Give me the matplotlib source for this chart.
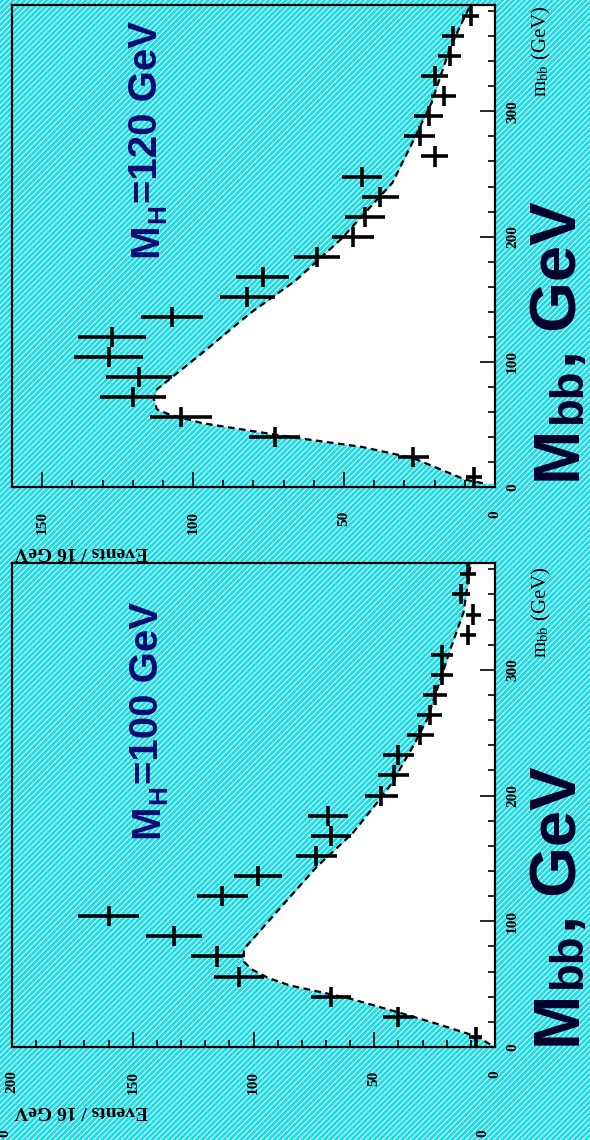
import numpy as np
import matplotlib
import matplotlib.pyplot as plt
from matplotlib.ticker import MultipleLocator
from matplotlib.patches import Rectangle
from matplotlib.transforms import IdentityTransform

matplotlib.use('Agg')

plt.rcParams['mathtext.fontset'] = 'stix'
plt.rcParams['hatch.linewidth'] = 0.7

# bin centres (Events / 16 GeV)
m_bins = [8, 24, 40, 56, 72, 88, 104, 120, 136, 152, 168, 184,
          200, 216, 232, 248, 264, 280, 296, 312, 328, 344, 360, 376]
bin_half = 8

# M_H = 100 GeV
events_100 = [8, 40, 68, 106, 115, 133, 160, 113, 98, 74, 68, 69,
              47, 42, 40, 31, 27, 25, 22, 22, 11, 9, 14, 11]
err_100 = [2.8, 6.3, 8.2, 10.3, 10.7, 11.5, 12.6, 10.6, 9.9, 8.6, 8.2, 8.3,
           6.9, 6.5, 6.3, 5.6, 5.2, 5.0, 4.7, 4.7, 3.3, 3.0, 3.7, 3.3]
curve_m_100 = [2, 8, 19, 27, 39, 49, 55, 62, 68, 76, 80, 117, 143, 170,
               194, 209, 239, 261, 319, 346, 372, 385]
curve_ev_100 = [2, 7, 25, 39, 61, 85, 94, 101, 104, 104, 103, 86, 74, 59,
                49, 43, 34, 28, 18, 13, 11, 10]

# M_H = 120 GeV
events_120 = [7, 27, 73, 104, 120, 118, 128, 127, 107, 82, 77, 59,
              47, 43, 38, 44, 20, 25, 22, 17, 20, 15, 14, 8]
err_120 = [2.6, 5.2, 8.5, 10.2, 11.0, 10.9, 11.3, 11.3, 10.3, 9.1, 8.8, 7.7,
           6.9, 6.6, 6.2, 6.6, 4.5, 5.0, 4.7, 4.1, 4.5, 3.9, 3.7, 2.8]
curve_m_120 = [3, 6, 16, 23, 32, 40, 51, 58, 62, 70, 78, 107, 139, 165,
               198, 243, 272, 307, 350, 376, 385]
curve_ev_120 = [4, 10, 20, 27, 44, 68, 97, 108, 112, 113, 112, 97, 81, 66,
                51, 34, 28, 21, 15, 10, 8]

W, H = 590, 1140
bg = '#1cdde6'
serif = ['Liberation Serif', 'DejaVu Serif']
sans = ['Liberation Sans', 'DejaVu Sans']

fig = plt.figure(figsize=(W / 100, H / 100), dpi=100)
fig.patch.set_facecolor(bg)
fig.add_artist(Rectangle((0, 0), 1, 1, transform=fig.transFigure, facecolor=bg,
                         edgecolor='#f4ffff', hatch='//////', lw=0, zorder=-10))


def px_axes(left, top, right, bottom):
    return fig.add_axes([left / W, 1 - bottom / H, (right - left) / W, (bottom - top) / H])


def draw_panel(ax, ev, err, cm, cev, ev_max):
    ax.set_facecolor('none')
    ax.fill_betweenx(cm, 0, cev, color='white', lw=0, zorder=1)
    ax.plot(cev, cm, color='black', ls=(0, (3, 2)), lw=1.6, zorder=2)
    ax.errorbar(ev, m_bins, xerr=err, yerr=bin_half, fmt='none', ecolor='black',
                elinewidth=2.6, capsize=0, zorder=3)
    ax.set_xlim(ev_max, 0)
    ax.set_ylim(0, 385)
    ax.xaxis.set_major_locator(MultipleLocator(50))
    ax.xaxis.set_minor_locator(MultipleLocator(10))
    ax.yaxis.set_major_locator(MultipleLocator(100))
    ax.yaxis.set_minor_locator(MultipleLocator(20))
    ax.yaxis.tick_right()
    ax.tick_params(which='both', direction='in', top=False, left=False, width=1.2)
    ax.tick_params(which='major', length=11)
    ax.tick_params(which='minor', length=5)
    ax.tick_params(axis='x', pad=17)
    ax.tick_params(axis='y', pad=8)
    for lab in ax.get_xticklabels() + ax.get_yticklabels():
        lab.set_rotation(90)
        lab.set_family(serif)
        lab.set_fontsize(11)
        lab.set_fontweight('bold')
    for lab in ax.get_yticklabels():
        lab.set_verticalalignment('center')
    for s in ax.spines.values():
        s.set_linewidth(1.6)


def rich(x, y, pieces, size, color):
    # pieces written bottom-to-top from baseline start (x, y) in pixels from top-left
    renderer = fig.canvas.get_renderer()
    size_px = size * 100 / 72
    ypos = H - y
    for s, scale, shift in pieces:
        t = fig.text(x + shift * size_px, ypos, s, transform=IdentityTransform(),
                     rotation=90, rotation_mode='anchor', ha='left', va='baseline',
                     fontsize=size * scale, fontweight='bold', color=color, family=sans)
        ypos += t.get_window_extent(renderer).height + 0.02 * size_px


ax_top = px_axes(12, 5, 495, 487)
draw_panel(ax_top, events_120, err_120, curve_m_120, curve_ev_120, 160)
ax_bot = px_axes(12, 563, 495, 1047)
draw_panel(ax_bot, events_100, err_100, curve_m_100, curve_ev_100, 200)

for ytxt in [551, 1111]:
    fig.text(14 / W, 1 - ytxt / H, 'Events / 16 GeV', rotation=180, ha='left', va='center',
             family=serif, fontsize=14, fontweight='bold')
for ytop in [5, 566]:
    fig.text(541 / W, 1 - ytop / H, r'm$_{\rm bb}$ (GeV)', rotation=90, ha='center', va='top',
             family=serif, fontsize=15)

# stray labels of the next panel, cut off at the bottom
for xs in [483, 5]:
    fig.text(xs / W, 1 - 1133 / H, '0', rotation=90, ha='center', va='center',
             family=serif, fontsize=11, fontweight='bold')

for ystart in [480, 1045]:
    rich(576, ystart, [('M', 1, 0), ('bb', 0.7, 0.07), (', GeV', 1, 0)], 47, '#00002a')
rich(157, 257, [('M', 1, 0), ('H', 0.65, 0.2), ('=120 GeV', 1, 0)], 29, '#0b0b70')
rich(158, 838, [('M', 1, 0), ('H', 0.65, 0.2), ('=100 GeV', 1, 0)], 29, '#0b0b70')

fig.savefig('out.png', dpi=100, facecolor=fig.get_facecolor())
